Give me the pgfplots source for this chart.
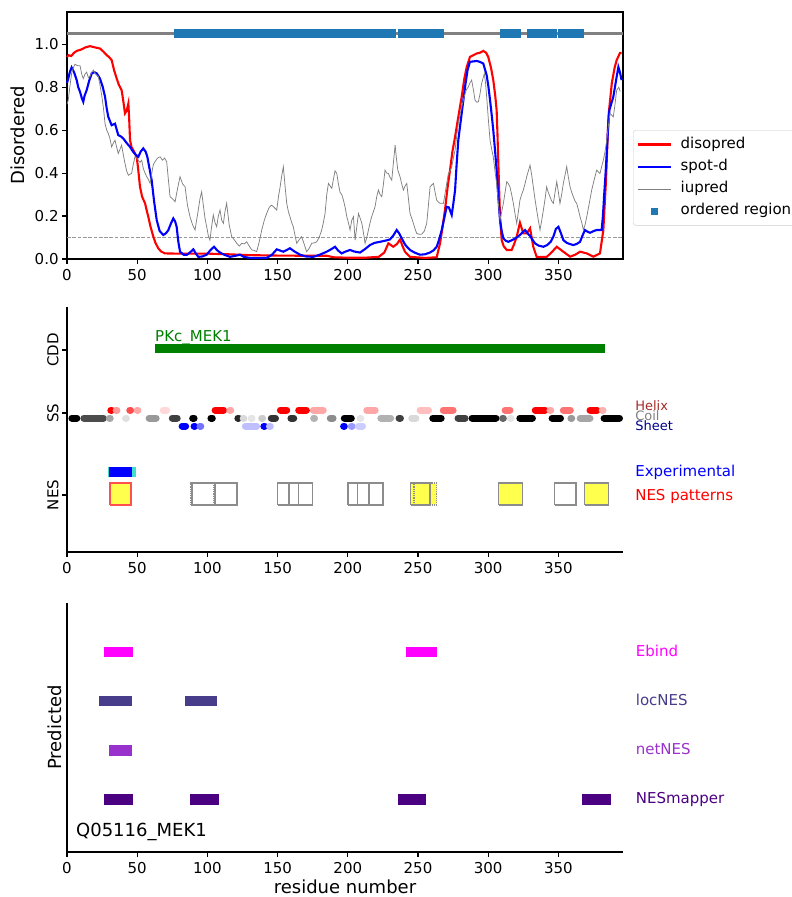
\documentclass[border=0pt]{standalone}
\usepackage{pgfplots}
\pgfplotsset{compat=1.18}
\usepackage{fontspec}
\setmainfont{DejaVu Sans}
\definecolor{tabblue}{HTML}{1F77B4}
\definecolor{cddgreen}{HTML}{008000}
\definecolor{nesyellow}{HTML}{FFFF4D}
\definecolor{nesred}{HTML}{FF5050}
\definecolor{expcyan}{HTML}{40E0D0}
\definecolor{helixc}{HTML}{A52A2A}
\definecolor{sheetc}{HTML}{00008B}
\definecolor{ebind}{HTML}{FF00FF}
\definecolor{locnes}{HTML}{483D8B}
\definecolor{netnes}{HTML}{9932CC}
\definecolor{nesmapper}{HTML}{4B0082}
\definecolor{boxgray}{HTML}{8C8C8C}
\newcommand{\mpl}{\fontsize{15bp}{18bp}\selectfont}
\newcommand{\mpm}{\fontsize{15bp}{18bp}\selectfont}
\newcommand{\mps}{\fontsize{13bp}{15bp}\selectfont}
\newcommand{\mpb}{\fontsize{18bp}{21bp}\selectfont}
\newcommand{\sss}[4]{\addplot[forget plot, line width=7bp, line cap=round, color=#1] coordinates {(#2,#4) (#3,#4)};}
\newcommand{\nesbox}[3]{\addplot[forget plot, #1] coordinates {(#2,47) (#3,47) (#3,69) (#2,69) (#2,47)};}
\pgfplotsset{
  base/.style={scale only axis, width=556bp, xmin=0, xmax=396,
    xtick={0,50,100,150,200,250,300,350},
    xticklabels={0,50,100,150,200,250,300,350},
    tick align=outside, major tick length=4.9bp,
    every tick/.style={line width=1.1bp, black},
    axis line style={line width=1.1bp, -},
    tick label style={font=\mpl},
    xticklabel style={yshift=-2bp},
    clip=false, unbounded coords=jump},
}
\begin{document}
\begin{tikzpicture}
\useasboundingbox (0,0) rectangle (792bp,-897bp);
\clip (0,0) rectangle (792bp,-897bp);
% ---------------- top panel ----------------
\begin{axis}[base, at={(67bp,-259bp)}, anchor=south west, height=247bp,
  ymin=0, ymax=1.15, ytick={0,0.2,0.4,0.6,0.8,1.0},
  yticklabels={0.0,0.2,0.4,0.6,0.8,1.0},
  xtick pos=left, ytick pos=left,
  legend style={at={(1.018,0.522)}, anchor=north west, draw=black!20,
    rounded corners=2.5bp, font=\mpm, inner xsep=3.3bp, inner ysep=5bp,
    row sep=3.7bp, column sep=7bp, cells={anchor=west},
    nodes={inner sep=2bp, text height=11bp, text depth=3.5bp}},
  legend image code/.code={\draw[#1] (0bp,0bp) -- (33bp,0bp);},
]
\addplot[forget plot, color=gray, line width=2.7bp] coordinates {(0,1.05) (396,1.05)};
\addplot[forget plot, color=tabblue, line width=9.5bp] coordinates {
(76.1,1.05) (234,1.05) (nan,nan) (235.9,1.05) (268.5,1.05) (nan,nan)
(308.4,1.05) (323.4,1.05) (nan,nan) (327.8,1.05) (349.1,1.05) (nan,nan)
(349.6,1.05) (368,1.05)};
\addplot[forget plot, color=black!40, line width=1bp, dash pattern=on 3.7bp off 1.6bp] coordinates {(0,0.1) (396,0.1)};
\addplot[color=red, line width=2.1bp] coordinates {
(0,0.94) (1,0.949) (3,0.945) (5,0.96) (7,0.969) (10,0.975) (13,0.985) (16.4,0.991) (20,0.985) (23.5,0.98) (26,0.965) (28.3,0.949) (30,0.94) (31.8,0.926) (33.5,0.88) (35.4,0.84) (37,0.81) (38.9,0.786) (40,0.74) (41.3,0.678) (42.5,0.69) (43.7,0.724) (44.3,0.65) (44.9,0.553) (46,0.52) (47.2,0.507) (48.5,0.49) (49.6,0.476) (50.5,0.43) (52,0.336) (53.5,0.29) (55.6,0.259) (57,0.22) (57.9,0.197) (59.5,0.15) (61.5,0.104) (63,0.075) (65,0.05) (67,0.035) (69.8,0.026) (80,0.025) (100,0.025) (115,0.022) (130,0.018) (150,0.016) (170,0.015) (185,0.015) (190,0.008) (200,0.006) (212,0.006) (222,0.01) (226,0.03) (228.9,0.073) (232.4,0.057) (235,0.07) (237.2,0.091) (239,0.06) (240.7,0.034) (244.3,0.01) (255,0.005) (263.3,0.008) (265.7,0.073) (267.5,0.15) (269.2,0.228) (271,0.33) (272.8,0.414) (274.5,0.5) (276.4,0.569) (278.7,0.662) (281.1,0.755) (283,0.84) (284.7,0.894) (287,0.941) (291.8,0.957) (294,0.96) (296.5,0.969) (298.5,0.96) (300,0.941) (302,0.89) (303.6,0.833) (305,0.76) (306,0.693) (306.6,0.58) (307.2,0.445) (308.4,0.197) (309.6,0.088) (311,0.06) (313.2,0.042) (316.7,0.042) (318.5,0.07) (320.3,0.104) (322.6,0.169) (325,0.119) (327.4,0.119) (329.8,0.143) (332.1,0.057) (334.5,0.01) (341.7,0.01) (345,0.03) (348.8,0.057) (353.5,0.034) (358.3,0.011) (362,0.02) (365.4,0.034) (370.2,0.026) (374.9,0.011) (379.6,0.026) (382,0.135) (383.9,0.367) (385.6,0.662) (388,0.817) (390,0.89) (391.5,0.926) (393.9,0.96) (395,0.96)};
\addplot[color=blue, line width=2.1bp] coordinates {
(0,0.82) (0.9,0.84) (2,0.87) (3.3,0.892) (5,0.87) (6.9,0.833) (8,0.8) (9.3,0.778) (10.5,0.75) (11.6,0.732) (12.5,0.76) (14,0.786) (15.8,0.83) (17.6,0.864) (19.5,0.87) (21.2,0.864) (23.5,0.84) (25.5,0.8) (27.1,0.755) (28.3,0.7) (29.4,0.662) (31.8,0.623) (34.2,0.63) (36.5,0.577) (38.5,0.57) (40.1,0.561) (42.5,0.54) (44.9,0.522) (47,0.5) (49,0.485) (50.8,0.476) (52.5,0.5) (54.3,0.515) (56,0.5) (57.2,0.476) (58.8,0.42) (60.3,0.367) (62,0.27) (63.9,0.181) (66,0.13) (68.6,0.112) (70.5,0.12) (72.2,0.135) (74,0.165) (75.7,0.189) (77,0.175) (78.1,0.15) (79.3,0.08) (80.5,0.034) (83,0.02) (85.3,0.019) (87.5,0.03) (90,0.045) (91.8,0.025) (93.5,0.01) (96.5,0.012) (99.5,0.02) (102,0.04) (104.7,0.057) (107,0.04) (109,0.03) (112,0.02) (116.1,0.01) (120,0.015) (123.2,0.02) (126,0.01) (130.3,0.005) (136,0.004) (142.2,0.005) (146,0.02) (149.4,0.045) (151.5,0.04) (154.1,0.034) (156.5,0.042) (158.8,0.05) (162,0.035) (166,0.02) (170,0.012) (175.4,0.01) (180,0.02) (185,0.034) (188,0.045) (190.9,0.057) (193,0.04) (195.6,0.026) (198.5,0.035) (201.6,0.042) (204.5,0.035) (208.7,0.03) (212,0.045) (215.8,0.065) (219,0.075) (222.9,0.08) (226.5,0.085) (230,0.091) (232.5,0.11) (234.8,0.135) (236.5,0.12) (238.4,0.096) (241,0.065) (244.3,0.042) (247.5,0.03) (251.4,0.02) (255,0.022) (258.5,0.03) (261,0.04) (263.3,0.057) (265,0.09) (266.9,0.135) (268.7,0.19) (270.4,0.243) (272,0.24) (274,0.205) (275.2,0.26) (276.4,0.321) (277.5,0.44) (278.7,0.553) (281.1,0.678) (283.5,0.801) (285.3,0.88) (287,0.918) (291.8,0.922) (294,0.918) (296.5,0.91) (297.8,0.88) (298.9,0.856) (300.2,0.8) (301.3,0.74) (302.5,0.67) (303.6,0.6) (304.8,0.51) (306,0.414) (307.2,0.29) (308.4,0.181) (309.6,0.13) (310.8,0.096) (312.5,0.085) (314.3,0.08) (316,0.085) (317.9,0.091) (320.3,0.1) (322.6,0.112) (324.5,0.125) (326.2,0.135) (328,0.12) (329.8,0.107) (331.5,0.09) (333.3,0.073) (336,0.062) (339.3,0.057) (342,0.065) (344.5,0.08) (346.4,0.104) (348.2,0.14) (350,0.15) (351.8,0.12) (353.5,0.088) (356,0.075) (358,0.07) (360.6,0.065) (363,0.07) (365.4,0.08) (367.2,0.11) (368.9,0.135) (370.5,0.128) (372.5,0.122) (375,0.13) (377.3,0.135) (379,0.135) (380.8,0.135) (381.7,0.2) (382.5,0.29) (383.5,0.39) (384.4,0.491) (385.3,0.6) (386.3,0.693) (387.5,0.72) (389.1,0.755) (391,0.83) (392.7,0.894) (393.8,0.87) (395,0.833)};
\addplot[color=gray, line width=0.75bp] coordinates {
(0,0.72) (0.9,0.74) (2,0.8) (3.3,0.864) (4.5,0.89) (5.7,0.907) (7.5,0.9) (9.3,0.9) (10.5,0.86) (11.6,0.84) (12.8,0.86) (14,0.87) (15.2,0.845) (16.4,0.85) (17.6,0.87) (18.8,0.88) (20.5,0.86) (22.3,0.85) (23.5,0.81) (24.7,0.763) (26,0.7) (27.1,0.63) (28.3,0.6) (29.4,0.585) (30.6,0.56) (31.8,0.522) (33,0.54) (34.2,0.553) (35.4,0.52) (36.5,0.491) (37.7,0.51) (38.9,0.53) (40,0.49) (41.3,0.445) (42.5,0.41) (43.7,0.39) (44.9,0.395) (46,0.398) (47.2,0.44) (48.4,0.476) (49.6,0.47) (50.8,0.46) (52,0.45) (53.2,0.46) (54.4,0.42) (55.6,0.4) (56.8,0.383) (58,0.37) (59.2,0.352) (60.4,0.4) (61.5,0.44) (62.7,0.453) (64.5,0.47) (66.3,0.476) (68,0.46) (69.5,0.47) (71,0.453) (72.2,0.37) (73.4,0.29) (75.2,0.28) (77,0.267) (78.8,0.33) (80.5,0.383) (82.3,0.35) (84.1,0.336) (85.8,0.25) (87.6,0.197) (89.4,0.16) (91.2,0.135) (92.3,0.18) (93.5,0.228) (94.7,0.28) (95.9,0.313) (97.1,0.25) (98.3,0.19) (99.5,0.15) (100.6,0.11) (101.8,0.088) (103,0.15) (104.2,0.205) (105.4,0.17) (106.6,0.15) (107.8,0.2) (109,0.228) (110.2,0.18) (111.4,0.166) (112.5,0.22) (113.7,0.259) (115.5,0.16) (117.3,0.104) (119.1,0.09) (120.9,0.073) (122.7,0.06) (124.4,0.073) (126.2,0.07) (128,0.08) (129.8,0.06) (131.6,0.042) (133.3,0.04) (135.1,0.034) (136.9,0.08) (138.7,0.135) (140.5,0.18) (142.2,0.212) (144,0.24) (145.8,0.251) (147.6,0.24) (149.4,0.228) (150.6,0.29) (151.8,0.336) (153,0.39) (154.1,0.429) (155.3,0.34) (156.5,0.259) (157.7,0.22) (158.8,0.197) (160,0.17) (161.2,0.15) (162.4,0.11) (163.6,0.073) (165.4,0.09) (167.1,0.104) (168.9,0.07) (170.7,0.034) (172.5,0.05) (174.3,0.073) (176,0.075) (177.8,0.08) (179.6,0.1) (181.4,0.135) (182.6,0.17) (183.8,0.212) (185,0.3) (186.2,0.352) (187.4,0.34) (188.6,0.329) (189.7,0.37) (190.9,0.41) (192.1,0.4) (193.3,0.35) (194.5,0.31) (195.7,0.3) (196.9,0.274) (198.1,0.24) (199.3,0.197) (200.4,0.17) (201.6,0.135) (202.8,0.18) (204,0.197) (205.2,0.088) (206.4,0.15) (207.6,0.212) (208.8,0.19) (210,0.166) (211.2,0.12) (212.3,0.073) (213.5,0.1) (214.7,0.135) (215.9,0.17) (217,0.197) (218.2,0.22) (219.4,0.243) (220.6,0.29) (221.8,0.321) (223,0.3) (224.2,0.29) (225.4,0.35) (226.5,0.414) (227.7,0.4) (228.9,0.398) (230.1,0.38) (231.3,0.367) (232.5,0.45) (233.7,0.53) (234.6,0.47) (235.6,0.414) (237.2,0.383) (238.4,0.35) (239.6,0.321) (240.8,0.34) (242,0.352) (243.2,0.28) (244.3,0.212) (245.5,0.19) (246.7,0.166) (247.9,0.14) (249.1,0.119) (250.9,0.115) (252.7,0.116) (254.5,0.13) (256.2,0.166) (257.4,0.25) (258.6,0.336) (259.8,0.345) (261,0.352) (262.2,0.31) (263.3,0.274) (264.5,0.265) (265.7,0.259) (266.9,0.26) (268.1,0.259) (269.9,0.33) (271.6,0.398) (272.8,0.41) (274,0.429) (275.2,0.47) (276.4,0.507) (277.5,0.57) (278.7,0.631) (279.9,0.67) (281.1,0.708) (282.3,0.74) (283.5,0.77) (284.6,0.79) (285.8,0.801) (287,0.82) (288.2,0.833) (289.4,0.79) (290.6,0.74) (291.8,0.73) (293,0.732) (294.2,0.77) (295.3,0.817) (296.3,0.84) (297.2,0.864) (298.1,0.82) (298.9,0.755) (300.1,0.65) (301.3,0.553) (302.5,0.51) (303.6,0.476) (304.8,0.41) (306,0.352) (307.2,0.26) (308.4,0.181) (309.6,0.22) (310.8,0.259) (312,0.31) (313.2,0.36) (314.4,0.35) (315.5,0.336) (316.7,0.3) (317.9,0.259) (319.1,0.21) (320.3,0.166) (321.5,0.22) (322.6,0.274) (323.8,0.3) (325,0.321) (326.2,0.35) (327.4,0.383) (328.6,0.41) (329.8,0.437) (331,0.39) (332.1,0.336) (333.3,0.28) (334.5,0.228) (335.7,0.18) (336.9,0.135) (338.1,0.18) (339.3,0.228) (340.5,0.28) (341.6,0.336) (342.8,0.31) (344,0.29) (345.2,0.27) (346.4,0.259) (347.6,0.31) (348.8,0.36) (350,0.31) (351.1,0.259) (352.3,0.3) (353.5,0.352) (354.7,0.39) (355.9,0.43) (357.1,0.38) (358.3,0.336) (359.5,0.31) (360.6,0.29) (361.8,0.27) (363,0.259) (364.2,0.23) (365.4,0.197) (366.6,0.17) (367.8,0.135) (369,0.16) (370.2,0.197) (372,0.26) (373.7,0.321) (375.5,0.37) (377.3,0.414) (378.5,0.405) (379.6,0.398) (380.8,0.43) (382,0.46) (383.2,0.5) (384.4,0.553) (385.6,0.62) (386.7,0.678) (387.9,0.67) (389.1,0.662) (390.3,0.72) (391.5,0.786) (393,0.8) (394,0.78)};
\addlegendimage{legend image code/.code={\path[draw=none, fill=none] (0bp,0bp) -- (33bp,0bp); \fill[tabblue, draw=none, sharp corners] (13bp,-3.5bp) rectangle (20bp,3.5bp);}}
\legend{disopred, spot-d, iupred, ordered region}
\end{axis}
% ---------------- middle panel ----------------
\begin{axis}[base, at={(67bp,-552bp)}, anchor=south west, height=245bp,
  ymin=0, ymax=245, axis x line*=bottom, axis y line*=left,
  ytick={57,139,202}, yticklabels={NES,SS,CDD},
  yticklabel style={rotate=90, anchor=south, font=\mpm},
]
\addplot[forget plot, color=cddgreen, line width=9bp] coordinates {(62.7,203.5) (383.2,203.5)};
\node[anchor=base west, text=cddgreen, font=\mpm, inner sep=0pt] at (axis cs:62.7,211) {PKc\_MEK1};
% coil
\sss{black}{3.5}{7}{134}
\sss{black!70}{12}{26}{134}
\sss{black!35}{30.2}{30.8}{134}
\sss{black!12}{41.7}{42.3}{134}
\sss{black!40}{58.5}{63.5}{134}
\sss{black!75}{75}{78.5}{134}
\sss{black}{89.5}{90.5}{134}
\sss{black}{102.5}{103.5}{134}
\sss{black!85}{121.7}{122.3}{134}
\sss{black!15}{125.5}{126}{134}
\sss{black!10}{131.2}{131.8}{134}
\sss{black!20}{138.7}{139.3}{134}
\sss{black!80}{145.5}{148.5}{134}
\sss{black!80}{159.5}{161.5}{134}
\sss{black!30}{175.7}{176.3}{134}
\sss{black!45}{187.5}{189.5}{134}
\sss{black}{197.5}{202.5}{134}
\sss{black!10}{208.7}{209.3}{134}
\sss{black!30}{223.5}{230.5}{134}
\sss{black!75}{236.5}{237.5}{134}
\sss{black!15}{245.5}{248.5}{134}
\sss{black}{260.5}{266.5}{134}
\sss{black!75}{278.5}{283.5}{134}
\sss{black}{288.5}{305.5}{134}
\sss{black!60}{310.2}{310.8}{134}
\sss{black!10}{315.7}{316.3}{134}
\sss{black}{322.5}{331.5}{134}
\sss{black}{345.5}{351.5}{134}
\sss{black!40}{358.9}{359.5}{134}
\sss{black!35}{365.5}{372.5}{134}
\sss{black}{382.5}{393.5}{134}
% helix
\sss{red}{31.2}{31.8}{142}
\sss{red!40}{35}{35.6}{142}
\sss{red!70}{44.7}{45.3}{142}
\sss{red!35}{50}{50.5}{142}
\sss{red!15}{68.5}{71}{142}
\sss{red}{105.5}{111.5}{142}
\sss{red!35}{116}{116.6}{142}
\sss{red}{152}{156.5}{142}
\sss{red}{165}{170.5}{142}
\sss{red!35}{175.5}{182.5}{142}
\sss{red!35}{213.5}{219.5}{142}
\sss{red!25}{251.5}{257.5}{142}
\sss{red!55}{268}{275}{142}
\sss{red!55}{312}{315.5}{142}
\sss{red}{333.5}{340.5}{142}
\sss{red!35}{344}{344.5}{142}
\sss{red!55}{353.5}{358.5}{142}
\sss{red}{372.5}{377.5}{142}
\sss{red!30}{381.2}{381.8}{142}
% sheet
\sss{blue}{82}{84.5}{126}
\sss{blue}{90.5}{91}{126}
\sss{blue!55}{94.7}{95.3}{126}
\sss{blue!25}{127}{135}{126}
\sss{blue}{140.2}{140.8}{126}
\sss{blue!25}{144.2}{144.8}{126}
\sss{blue}{197}{197.5}{126}
\sss{blue!40}{202.5}{203}{126}
\sss{blue!20}{207.5}{210.5}{126}
% experimental
\addplot[forget plot, color=expcyan, line width=9.4bp] coordinates {(29.4,80) (49.1,80)};
\addplot[forget plot, color=blue, line width=9.4bp] coordinates {(30.1,80) (46,80)};
% NES patterns
\nesbox{fill=nesyellow, draw=nesred, line width=2.5bp}{30.6}{45.6}
\nesbox{draw=boxgray, line width=1.2bp, densely dotted}{88.3}{104.3}
\nesbox{draw=boxgray, line width=1.5bp}{89.2}{105.4}
\nesbox{draw=boxgray, line width=1.5bp}{105.4}{121}
\nesbox{draw=boxgray, line width=1.5bp}{150}{165}
\nesbox{draw=boxgray, line width=1.5bp}{158}{175}
\nesbox{draw=boxgray, line width=1.5bp}{200}{215}
\nesbox{draw=boxgray, line width=1.5bp}{207}{225}
\nesbox{fill=nesyellow, draw=none}{244.7}{263.2}
\nesbox{draw=boxgray, line width=1.5bp}{244.7}{258.6}
\nesbox{draw=boxgray, line width=1.2bp, densely dotted}{247.2}{263.2}
\nesbox{fill=nesyellow, draw=boxgray, line width=1.5bp}{307.4}{324.5}
\nesbox{draw=boxgray, line width=1.5bp}{347.3}{362.5}
\nesbox{fill=nesyellow, draw=boxgray, line width=1.5bp}{368.7}{385.8}
\node[anchor=base west, text=helixc, font=\mps, inner sep=0pt] at (axis cs:404.6,141.3) {Helix};
\node[anchor=base west, text=gray, font=\mps, inner sep=0pt] at (axis cs:404.6,132) {Coil};
\node[anchor=base west, text=sheetc, font=\mps, inner sep=0pt] at (axis cs:404.6,122) {Sheet};
\node[anchor=base west, text=blue, font=\mpm, inner sep=0pt] at (axis cs:404.6,76) {Experimental};
\node[anchor=base west, text=red, font=\mpm, inner sep=0pt] at (axis cs:404.6,52) {NES patterns};
\end{axis}
% ---------------- bottom panel ----------------
\begin{axis}[base, at={(67bp,-852bp)}, anchor=south west, height=249bp,
  ymin=0, ymax=249, axis x line*=bottom, axis y line*=left, ytick=\empty,
]
\addplot[forget plot, color=ebind, line width=10.5bp] coordinates {(26.1,200) (47.3,200) (nan,nan) (241.5,200) (263.3,200)};
\addplot[forget plot, color=locnes, line width=10.5bp] coordinates {(23,151) (46.4,151) (nan,nan) (84,151) (107,151)};
\addplot[forget plot, color=netnes, line width=10.5bp] coordinates {(29.9,101.5) (46.4,101.5)};
\addplot[forget plot, color=nesmapper, line width=10.5bp] coordinates {(26.6,52.3) (47.2,52.3) (nan,nan) (87.6,52.3) (108.3,52.3) (nan,nan) (235.5,52.3) (255.7,52.3) (nan,nan) (367,52.3) (387.5,52.3)};
\node[anchor=base west, text=ebind, font=\mpm, inner sep=0pt] at (axis cs:405,196) {Ebind};
\node[anchor=base west, text=locnes, font=\mpm, inner sep=0pt] at (axis cs:405,147) {locNES};
\node[anchor=base west, text=netnes, font=\mpm, inner sep=0pt] at (axis cs:405,98) {netNES};
\node[anchor=base west, text=nesmapper, font=\mpm, inner sep=0pt] at (axis cs:405,49) {NESmapper};
\node[anchor=base west, font=\mpb, inner sep=0pt] at (axis cs:6.4,16) {Q05116\_MEK1};
\end{axis}
\node[rotate=90, font=\mpb] at (18bp,-135.5bp) {Disordered};
\node[rotate=90, font=\mpb] at (55bp,-727.5bp) {Predicted};
\node[font=\mpb] at (345bp,-887bp) {residue number};
\end{tikzpicture}
\end{document}
